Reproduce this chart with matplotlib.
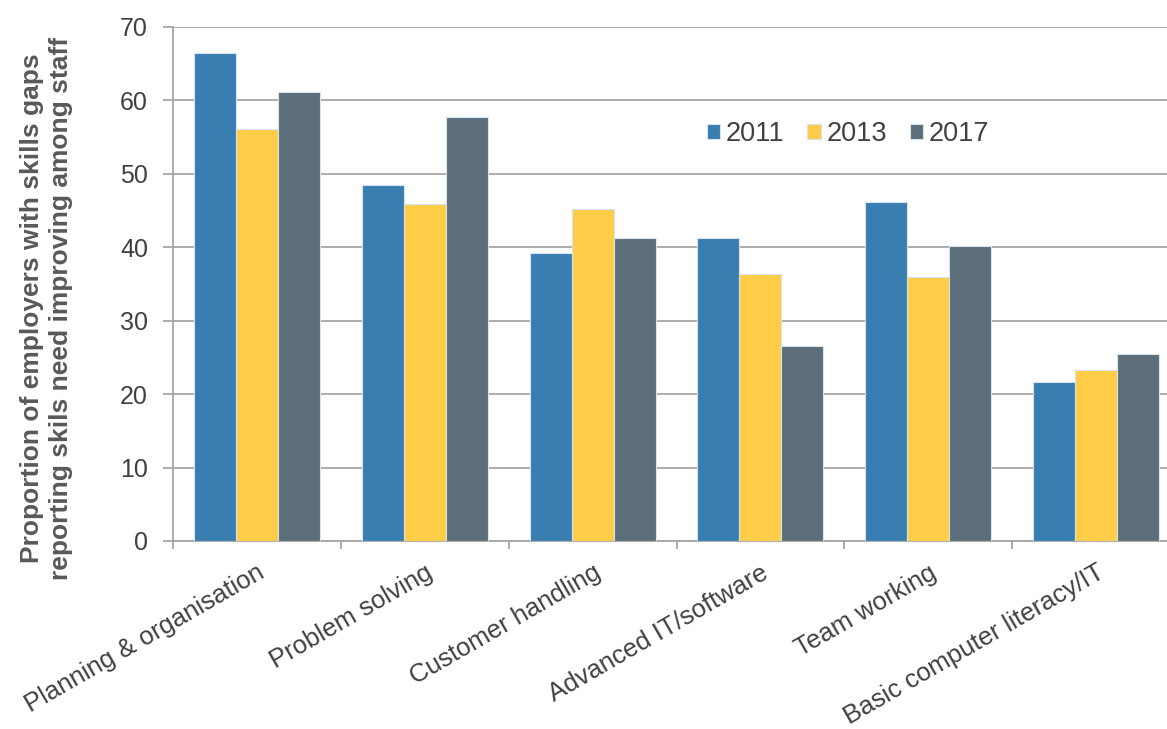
import numpy as np
import matplotlib.pyplot as plt

plt.rcParams['font.family'] = ['Liberation Sans', 'DejaVu Sans']

# skills and the share of employers reporting each gap, per survey year
skills = ['Planning & organisation', 'Problem solving', 'Customer handling',
          'Advanced IT/software', 'Team working', 'Basic computer literacy/IT']
years = ['2011', '2013', '2017']
v2011 = [66.5, 48.5, 39.2, 41.3, 46.2, 21.7]
v2013 = [56.1, 45.9, 45.2, 36.4, 36.0, 23.3]
v2017 = [61.2, 57.7, 41.3, 26.6, 40.2, 25.5]

colors = ['#3A7DB1', '#FFCD47', '#5C6E7A']
grid_col = '#A6A6A6'
text_col = '#404040'

W, H = 1167, 729
fig = plt.figure(figsize=(W / 100, H / 100), dpi=100)
# the plot area runs slightly past the right edge of the canvas
ax = fig.add_axes([173 / W, 1 - 541 / H, 1007 / W, 514 / H])

x = np.arange(len(skills))
w = 0.25
for i, (vals, col, yr) in enumerate(zip([v2011, v2013, v2017], colors, years)):
    ax.bar(x + (i - 1) * w, vals, width=w, color=col, label=yr,
           edgecolor='#D6E2EE', linewidth=0.8, zorder=3)

ax.set_xlim(-0.5, len(skills) - 0.5)
ax.set_ylim(0, 70)
ax.set_yticks(range(0, 71, 10))
ax.yaxis.grid(True, color=grid_col, linewidth=1.3, zorder=0)

for s in ['top', 'right']:
    ax.spines[s].set_visible(False)
for s in ['left', 'bottom']:
    ax.spines[s].set_color(grid_col)
    ax.spines[s].set_linewidth(1.3)

# category ticks sit on the group boundaries, labels at group centres
ax.set_xticks(np.arange(-0.5, len(skills), 1.0))
ax.set_xticklabels([])
ax.set_xticks(x, minor=True)
ax.set_xticklabels(skills, minor=True, rotation=30, ha='right',
                   rotation_mode='anchor', fontsize=18.5, color=text_col)
ax.tick_params(axis='x', which='major', length=6, color=grid_col, width=1.3)
ax.tick_params(axis='x', which='minor', length=0, pad=14)
ax.tick_params(axis='y', length=7, color=grid_col, width=1.3,
               labelsize=18, labelcolor=text_col, pad=11)

ax.set_ylabel('Proportion of employers with skills gaps\nreporting skils need improving among staff',
              fontsize=19, fontweight='bold', color='#595959',
              linespacing=1.25)
ax.yaxis.set_label_coords((73 - 173) / 1007, (541 - 308) / 514)

ax.legend(loc='center', bbox_to_anchor=((848 - 173) / 1007, (541 - 134) / 514),
          ncol=3, frameon=False, fontsize=19.5, handlelength=0.5,
          handleheight=0.5, handletextpad=0.2, columnspacing=0.85,
          labelcolor=text_col)

fig.savefig('out.png', dpi=100)
